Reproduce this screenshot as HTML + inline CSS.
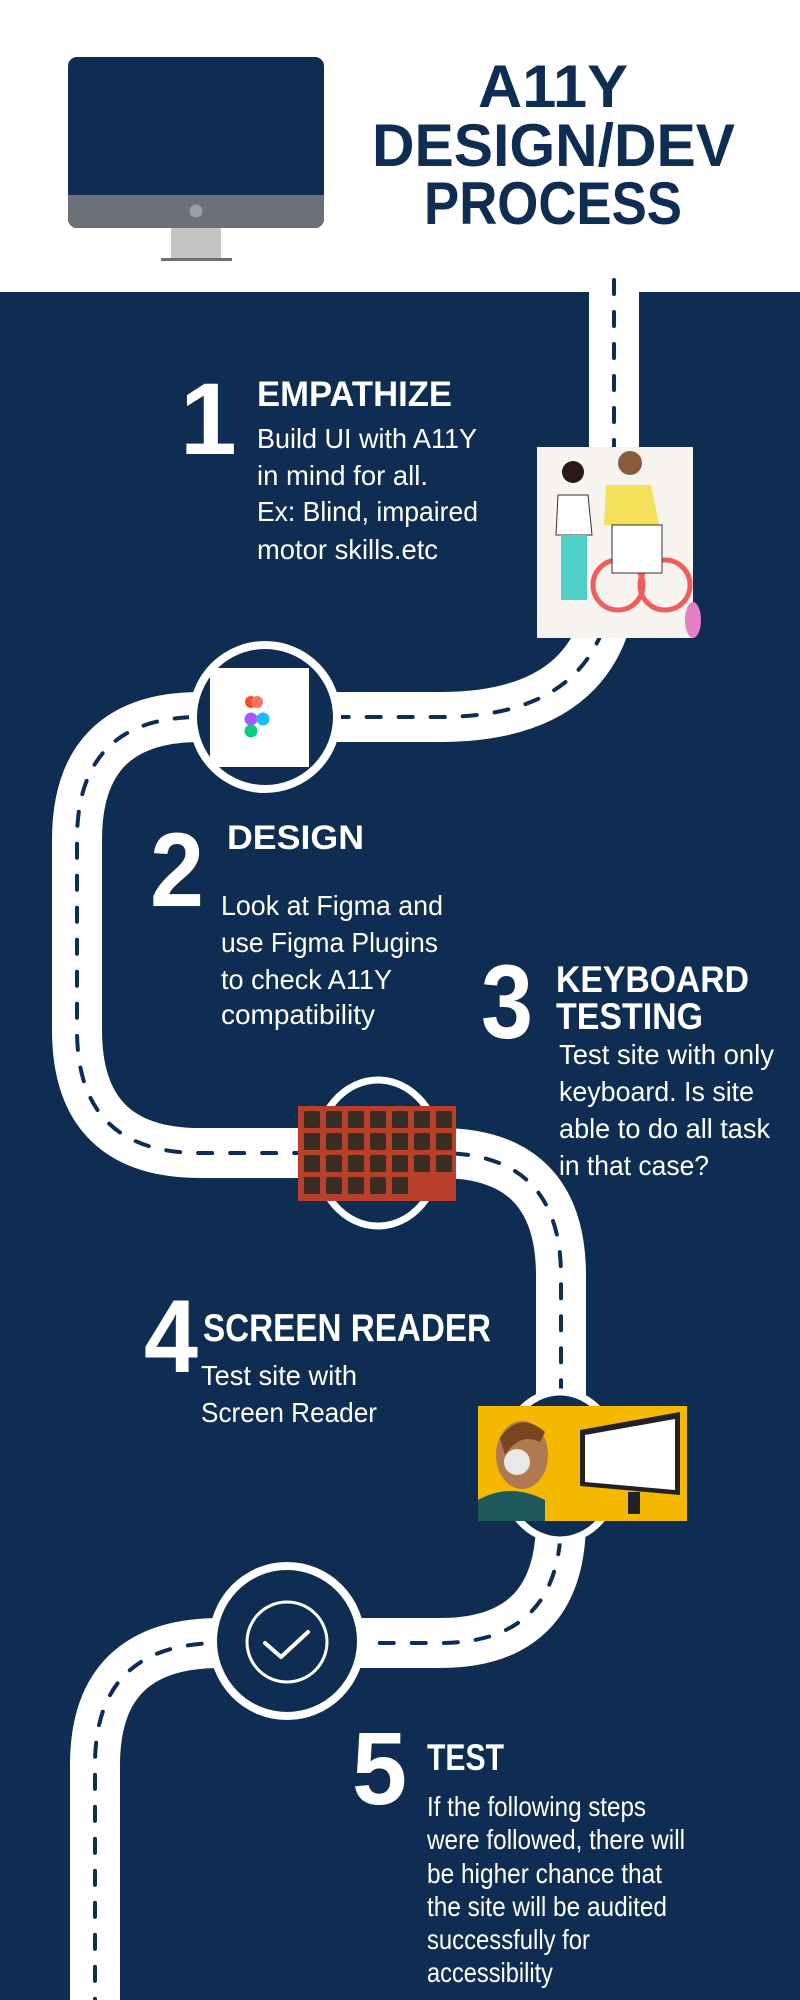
<!DOCTYPE html>
<html><head><meta charset="utf-8"><style>
html,body{margin:0;padding:0;width:800px;height:2000px;overflow:hidden;background:#0f2d52}
svg{display:block}
text{font-family:"Liberation Sans",sans-serif}
.h{font-weight:bold;fill:#fff}
.b{fill:#fff;font-size:28px}
.n{font-weight:bold;fill:#fff}
</style></head><body>
<svg width="800" height="2000" viewBox="0 0 800 2000" xmlns="http://www.w3.org/2000/svg">
<rect x="0" y="0" width="800" height="2000" fill="#0f2d52"/>
<rect x="0" y="0" width="800" height="292" fill="#fff"/>
<!-- monitor -->
<rect x="68" y="57" width="256" height="171" rx="9" fill="#0f2d52"/>
<path d="M68 195 H324 V219 a9 9 0 0 1 -9 9 H77 a9 9 0 0 1 -9 -9 Z" fill="#6b7079"/>
<circle cx="196" cy="211" r="6.5" fill="#9a9ea5"/>
<rect x="171" y="228" width="50" height="31" fill="#c4c4c4"/>
<rect x="161" y="258" width="71" height="3" fill="#6b7079"/>
<!-- title -->
<text x="553" y="107" text-anchor="middle" font-size="60" font-weight="bold" fill="#0f2d52" textLength="150" lengthAdjust="spacingAndGlyphs">A11Y</text>
<text x="372" y="166" font-size="60" font-weight="bold" fill="#0f2d52" textLength="363" lengthAdjust="spacingAndGlyphs">DESIGN/DEV</text>
<text x="424" y="224" font-size="60" font-weight="bold" fill="#0f2d52" textLength="258" lengthAdjust="spacingAndGlyphs">PROCESS</text>
<!-- road -->
<path id="rd" d="M614 280 L614 560 Q614 717 440 717 L200 717 Q77 717 77 840 L77 1030 Q77 1153 200 1153 L440 1153 Q561 1153 561 1276 L561 1520 Q561 1643 440 1643 L220 1643 Q95 1643 95 1765 L95 2000" fill="none" stroke="#fff" stroke-width="50"/>
<path d="M614 280 L614 560 Q614 717 440 717 L200 717 Q77 717 77 840 L77 1030 Q77 1153 200 1153 L440 1153 Q561 1153 561 1276 L561 1520 Q561 1643 440 1643 L220 1643 Q95 1643 95 1765 L95 2000" fill="none" stroke="#0f2d52" stroke-width="4" stroke-dasharray="14 18" stroke-linecap="round"/>
<!-- image 1 -->
<rect x="537" y="447" width="156" height="191" fill="#f7f3ee"/>
<circle cx="573" cy="472" r="11" fill="#2a1a14"/>
<path d="M558 495 h30 l4 40 h-36 z" fill="#fff" stroke="#333" stroke-width="1"/>
<rect x="561" y="535" width="26" height="65" fill="#4fcfc6"/>
<circle cx="630" cy="463" r="12" fill="#8b5a3c"/>
<path d="M606 485 h45 l8 40 h-55 z" fill="#f4e05a"/>
<circle cx="618" cy="585" r="25" fill="none" stroke="#ef5d5d" stroke-width="5"/>
<circle cx="665" cy="585" r="25" fill="none" stroke="#ef5d5d" stroke-width="5"/>
<rect x="612" y="525" width="50" height="48" fill="#fff" stroke="#333" stroke-width="1"/>
<ellipse cx="693" cy="620" rx="8" ry="18" fill="#e57fc6"/>
<!-- circle 2 -->
<circle cx="265" cy="717" r="72" fill="#0f2d52" stroke="#fff" stroke-width="8"/>
<rect x="210" y="668" width="99" height="99" fill="#fff"/>
<rect x="245" y="696" width="12" height="12" rx="6" fill="#f24e1e"/>
<rect x="251" y="696" width="12" height="12" rx="6" fill="#ff7262"/>
<circle cx="251" cy="719" r="6.5" fill="#a259ff"/>
<circle cx="263" cy="719" r="6.5" fill="#1abcfe"/>
<circle cx="251" cy="731" r="6.5" fill="#0acf83"/>
<!-- circle 3 -->
<ellipse cx="378" cy="1153" rx="62" ry="73" fill="#0f2d52" stroke="#fff" stroke-width="7"/>
<rect x="298" y="1106" width="158" height="95" fill="#b8402a"/>
<g fill="#3a2e24">
<rect x="304" y="1111" width="16" height="17" rx="2"/><rect x="326" y="1111" width="16" height="17" rx="2"/><rect x="348" y="1111" width="16" height="17" rx="2"/><rect x="370" y="1111" width="16" height="17" rx="2"/><rect x="392" y="1111" width="16" height="17" rx="2"/><rect x="414" y="1111" width="16" height="17" rx="2"/><rect x="436" y="1111" width="16" height="17" rx="2"/>
<rect x="304" y="1133" width="16" height="17" rx="2"/><rect x="326" y="1133" width="16" height="17" rx="2"/><rect x="348" y="1133" width="16" height="17" rx="2"/><rect x="370" y="1133" width="16" height="17" rx="2"/><rect x="392" y="1133" width="16" height="17" rx="2"/><rect x="414" y="1133" width="16" height="17" rx="2"/><rect x="436" y="1133" width="16" height="17" rx="2"/>
<rect x="304" y="1155" width="16" height="17" rx="2"/><rect x="326" y="1155" width="16" height="17" rx="2"/><rect x="348" y="1155" width="16" height="17" rx="2"/><rect x="370" y="1155" width="16" height="17" rx="2"/><rect x="392" y="1155" width="16" height="17" rx="2"/><rect x="414" y="1155" width="16" height="17" rx="2"/><rect x="436" y="1155" width="16" height="17" rx="2"/>
<rect x="304" y="1177" width="16" height="17" rx="2"/><rect x="326" y="1177" width="16" height="17" rx="2"/><rect x="348" y="1177" width="16" height="17" rx="2"/><rect x="370" y="1177" width="16" height="17" rx="2"/><rect x="392" y="1177" width="16" height="17" rx="2"/>
</g>
<!-- circle 4 -->
<ellipse cx="560" cy="1466" rx="60" ry="74" fill="#0f2d52" stroke="#fff" stroke-width="7"/>
<rect x="478" y="1406" width="209" height="115" fill="#f5b800"/>
<path d="M478 1521 L478 1500 Q510 1482 545 1500 L545 1521 Z" fill="#1f5a5a"/>
<ellipse cx="522" cy="1455" rx="26" ry="34" fill="#b07a50"/>
<path d="M500 1438 Q520 1410 545 1432 L540 1442 Q520 1432 505 1455 Z" fill="#7a4420"/>
<circle cx="517" cy="1462" r="13" fill="#e8e8e8"/>
<path d="M580 1430 L680 1412 L680 1495 L580 1486 Z" fill="#222"/>
<path d="M585 1435 L675 1419 L675 1490 L585 1482 Z" fill="#fff"/>
<rect x="628" y="1492" width="12" height="22" fill="#222"/>
<!-- circle 5 -->
<ellipse cx="287" cy="1641" rx="74" ry="75" fill="#0f2d52" stroke="#fff" stroke-width="8"/>
<circle cx="287" cy="1642" r="40" fill="none" stroke="#fff" stroke-width="3"/>
<path d="M265 1643 L281 1657 L308 1632" fill="none" stroke="#fff" stroke-width="4" stroke-linecap="round" stroke-linejoin="round"/>
<!-- step 1 -->
<text class="n" x="180" y="454" font-size="102">1</text>
<text class="h" x="257" y="406" font-size="35" textLength="195" lengthAdjust="spacingAndGlyphs">EMPATHIZE</text>
<text class="b" x="257" y="448" textLength="220" lengthAdjust="spacingAndGlyphs">Build UI with A11Y</text>
<text class="b" x="257" y="485" textLength="171" lengthAdjust="spacingAndGlyphs">in mind for all.</text>
<text class="b" x="257" y="521" textLength="221" lengthAdjust="spacingAndGlyphs">Ex: Blind, impaired</text>
<text class="b" x="257" y="559" textLength="181" lengthAdjust="spacingAndGlyphs">motor skills.etc</text>
<!-- step 2 -->
<text class="n" x="150" y="906" font-size="105" textLength="54" lengthAdjust="spacingAndGlyphs">2</text>
<text class="h" x="227" y="849" font-size="34" textLength="137" lengthAdjust="spacingAndGlyphs">DESIGN</text>
<text class="b" x="221" y="915" textLength="222" lengthAdjust="spacingAndGlyphs">Look at Figma and</text>
<text class="b" x="221" y="952" textLength="217" lengthAdjust="spacingAndGlyphs">use Figma Plugins</text>
<text class="b" x="221" y="989" textLength="171" lengthAdjust="spacingAndGlyphs">to check A11Y</text>
<text class="b" x="221" y="1024" textLength="154" lengthAdjust="spacingAndGlyphs">compatibility</text>
<!-- step 3 -->
<text class="n" x="481" y="1038" font-size="105" textLength="52" lengthAdjust="spacingAndGlyphs">3</text>
<text class="h" x="556" y="992" font-size="37" textLength="193" lengthAdjust="spacingAndGlyphs">KEYBOARD</text>
<text class="h" x="556" y="1029" font-size="37" textLength="147" lengthAdjust="spacingAndGlyphs">TESTING</text>
<text class="b" x="559" y="1064" textLength="215" lengthAdjust="spacingAndGlyphs">Test site with only</text>
<text class="b" x="559" y="1101" textLength="195" lengthAdjust="spacingAndGlyphs">keyboard. Is site</text>
<text class="b" x="559" y="1138" textLength="211" lengthAdjust="spacingAndGlyphs">able to do all task</text>
<text class="b" x="559" y="1175" textLength="150" lengthAdjust="spacingAndGlyphs">in that case?</text>
<!-- step 4 -->
<text class="n" x="144" y="1372" font-size="104" textLength="54" lengthAdjust="spacingAndGlyphs">4</text>
<text class="h" x="203" y="1341" font-size="39" textLength="288" lengthAdjust="spacingAndGlyphs">SCREEN READER</text>
<text class="b" x="201" y="1385" textLength="156" lengthAdjust="spacingAndGlyphs">Test site with</text>
<text class="b" x="201" y="1422" textLength="176" lengthAdjust="spacingAndGlyphs">Screen Reader</text>
<!-- step 5 -->
<text class="n" x="352" y="1804" font-size="103" textLength="55" lengthAdjust="spacingAndGlyphs">5</text>
<text class="h" x="427" y="1770" font-size="37" textLength="77" lengthAdjust="spacingAndGlyphs">TEST</text>
<text class="b" x="427" y="1816" font-size="27" textLength="219" lengthAdjust="spacingAndGlyphs">If the following steps</text>
<text class="b" x="427" y="1849" font-size="27" textLength="258" lengthAdjust="spacingAndGlyphs">were followed, there will</text>
<text class="b" x="427" y="1883" font-size="27" textLength="235" lengthAdjust="spacingAndGlyphs">be higher chance that</text>
<text class="b" x="427" y="1916" font-size="27" textLength="240" lengthAdjust="spacingAndGlyphs">the site will be audited</text>
<text class="b" x="427" y="1949" font-size="27" textLength="163" lengthAdjust="spacingAndGlyphs">successfully for</text>
<text class="b" x="427" y="1982" font-size="27" textLength="126" lengthAdjust="spacingAndGlyphs">accessibility</text>
</svg>
</body></html>
